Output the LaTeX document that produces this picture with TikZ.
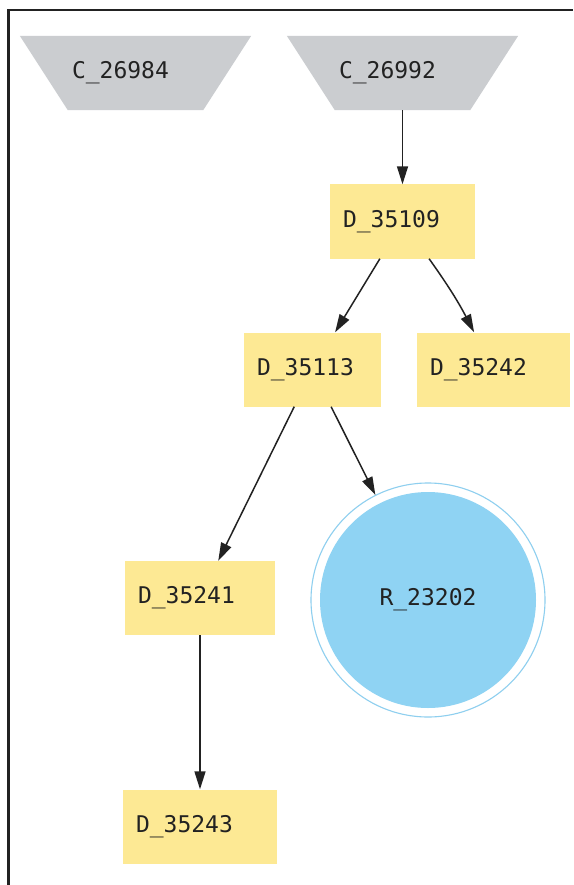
\documentclass[tikz,border=0pt]{standalone}
\usepackage{fontspec}
\setmainfont{DejaVu Sans Mono}
\usetikzlibrary{arrows.meta, backgrounds}

\definecolor{srcgray}{HTML}{CBCDD0}
\definecolor{boxyellow}{HTML}{FDE994}
\definecolor{resblue}{HTML}{8FD3F3}
\definecolor{ringblue}{HTML}{8ECFEF}
\definecolor{ink}{HTML}{222222}

\tikzset{
  lbl/.style={font=\fontsize{23}{27}\selectfont, text=ink},
  % the source node is the narrow (bottom) side of its trapezoid
  srcnode/.style={lbl, rectangle, draw=none, minimum width=135, minimum height=74,
    text width=127, inner xsep=4, inner ysep=0, align=left},
  srcfill/.style={fill=srcgray},
  dbox/.style={lbl, rectangle, fill=boxyellow, draw=none, minimum height=74,
    inner xsep=13, inner ysep=0, align=left},
  resnode/.style={lbl, circle, draw=ringblue, line width=1.1, minimum size=234,
    inner sep=0},
  edge/.style={draw=ink, line width=1.5, -{Triangle[length=18,width=11]}},
}

\begin{document}
\begin{tikzpicture}[x=1pt, y=-1pt]
  \useasboundingbox (0,0) rectangle (573,885);
  \begin{scope}[on background layer]
    \fill[white] (0,0) rectangle (573,885);
  \end{scope}

  % frame along the top and left sides
  \draw[ink, line width=2.4] (8.5,885) -- (8.5,10) -- (573,10);

  % sources
  \node[srcnode] (c1) at (135.5,73) {C\_26984};
  \node[srcnode] (c2) at (402.5,73) {C\_26992};
  \begin{scope}[on background layer]
    \foreach \c in {c1,c2}
      \fill[srcfill] ([xshift=-48]\c.north west) -- ([xshift=48]\c.north east)
        -- (\c.south east) -- (\c.south west) -- cycle;
  \end{scope}

  % descriptors
  \node[dbox, text width=119, minimum width=145] (d109) at (402.5,221.5) {D\_35109};
  \node[dbox, text width=111, minimum width=137] (d113) at (312.5,369.5) {D\_35113};
  \node[dbox, text width=127, minimum width=153] (d242) at (493.5,369.5) {D\_35242};
  \node[dbox, text width=124, minimum width=150] (d241) at (200,598) {D\_35241};
  \node[dbox, text width=128, minimum width=154] (d243) at (200,826.5) {D\_35243};

  % result with its outer ring
  \node[resnode] (r) at (428,600) {};
  \fill[resblue] (r.center) circle (108);
  \node[lbl] (rl) at (r.center) {R\_23202};

  % connectors
  \draw[edge] (c2) -- (d109);
  \draw[edge] (d109) -- (d113);
  \draw[edge] (d109) to[bend left=4] (d242);
  \draw[edge] (d113) -- (d241);
  \draw[edge] (d113) -- (r);
  \draw[edge] (d241) -- (d243);
\end{tikzpicture}
\end{document}
